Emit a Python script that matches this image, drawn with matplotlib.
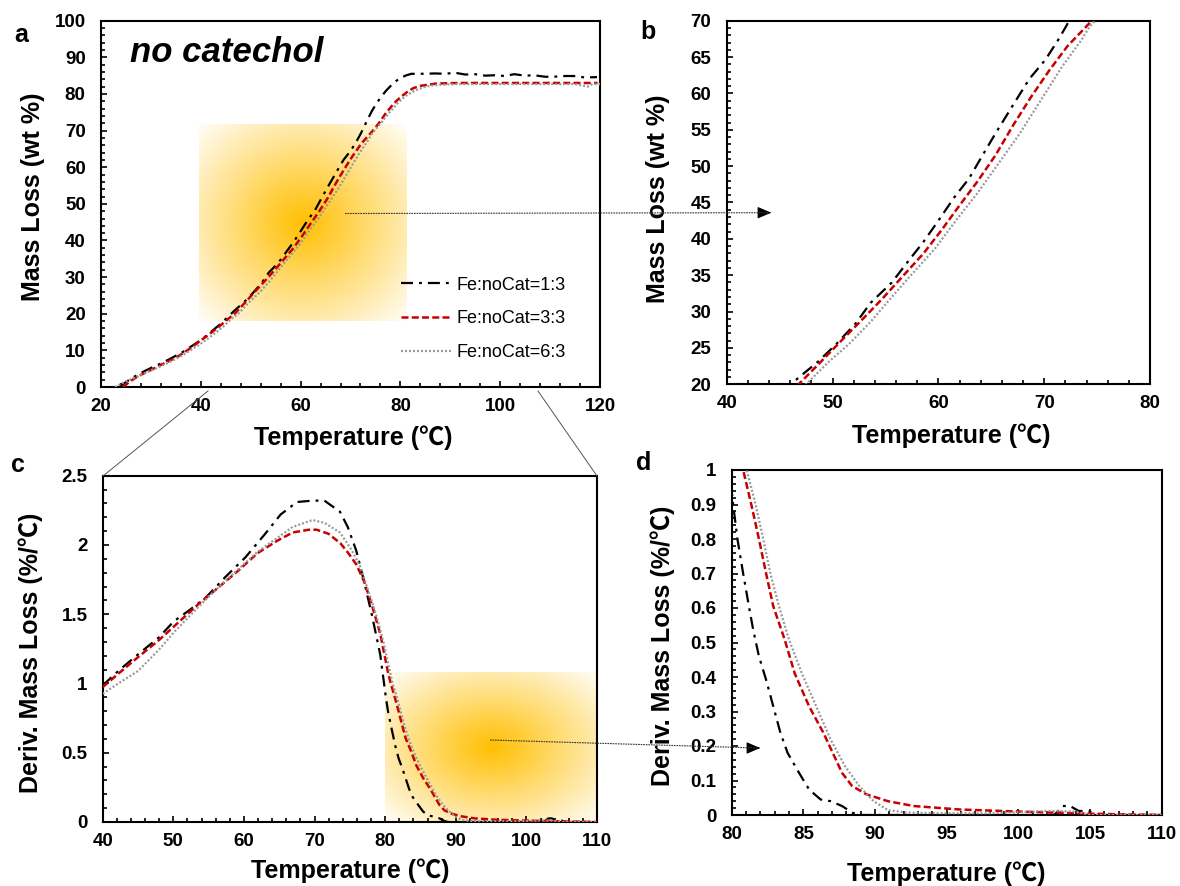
import numpy as np
import matplotlib
matplotlib.use('Agg')
import matplotlib.pyplot as plt
from matplotlib.ticker import MultipleLocator, FuncFormatter
from matplotlib.lines import Line2D
from matplotlib.patches import FancyArrowPatch

plt.rcParams['font.family'] = ['Liberation Sans', 'Noto Sans CJK JP', 'DejaVu Sans']
plt.rcParams['font.weight'] = 'bold'
plt.rcParams['axes.labelweight'] = 'bold'

labels = ['Fe:noCat=1:3', 'Fe:noCat=3:3', 'Fe:noCat=6:3']

# mass loss (wt %) vs temperature, panels a and b
t_13 = [23.6, 25.5, 27.5, 30, 32, 34, 36.2, 38, 40.2, 42, 44.2, 46.7, 48.7, 50.4, 52.2, 53.6,
        55.6, 57.3, 58.6, 60.0, 61.5, 62.9, 64.1, 65.4, 67.1, 68.6, 70.1, 71.3, 72.1, 73.2,
        74.3, 75.3, 76.3, 77.2, 78.2, 79.2, 80.2, 81.2, 82.2, 84, 87, 89, 90.9, 93, 94.9, 97,
        98.8, 101, 102.8, 105, 106.8, 109, 110.7, 113, 114.7, 117, 119.4]
m_13 = [0, 1.8, 3.5, 5.2, 6.4, 7.8, 9.4, 11, 13, 15, 17.5, 20.8, 23.2, 25.6, 28.4, 31.2,
        34.0, 37.2, 39.6, 42.5, 45.7, 48.3, 51.3, 54.5, 58.5, 62.0, 64.6, 67.3, 69.3, 72.4,
        75.4, 77.6, 79.5, 81.0, 82.4, 83.6, 84.5, 85.1, 85.5, 85.5, 85.6, 85.5, 85.8, 85.3,
        85.4, 85.0, 85.1, 84.9, 85.4, 85.0, 85.1, 84.7, 84.7, 84.9, 84.9, 84.5, 84.6]

t_33 = [24.4, 26, 27.5, 29.5, 31.5, 33.5, 35.5, 37.5, 39.4, 41.4, 43.4, 45.4, 46.8, 48.9,
        50.9, 52.6, 54.6, 56.6, 58.6, 60.3, 61.9, 63.7, 65.4, 67.1, 68.8, 70.5, 72.2, 74.7,
        75.9, 77, 78.2, 79.2, 80.2, 81.4, 82.6, 84, 85.4, 87, 88.5, 92, 96, 100, 105, 110,
        115, 119.5]
m_33 = [0, 1.7, 3.0, 4.3, 5.7, 7.0, 8.4, 10.2, 12.1, 14.1, 16.2, 18.5, 20.0, 23.1, 26.1,
        28.6, 31.6, 34.8, 38.0, 41.2, 44.4, 47.9, 51.5, 55.7, 59.6, 63.2, 66.5, 70.3, 72.4,
        74.6, 76.6, 78.1, 79.3, 80.6, 81.6, 82.2, 82.5, 82.8, 82.9, 83.0, 83.0, 83.0, 83.0,
        83.0, 83.0, 83.0]

t_63 = [22.8, 24.5, 26.7, 28.5, 30.5, 32.5, 34.5, 36.5, 38.5, 40.5, 42.5, 44.5, 46.3, 47.5,
        49.5, 51.6, 53.6, 55.6, 57.6, 59.7, 61.7, 63.7, 65.7, 67.7, 69.7, 71.7, 73.5, 74.3,
        76.3, 77.7, 79, 80.2, 81.4, 83, 84.6, 86.2, 87.8, 91, 95, 100, 105, 110, 115, 117.5,
        118.5, 120]
m_63 = [0, 1.2, 2.5, 3.6, 4.8, 6.0, 7.3, 8.8, 10.5, 12.3, 14.3, 16.5, 18.8, 20.0, 22.9,
        25.6, 28.6, 32.0, 35.3, 38.7, 42.6, 46.3, 50.4, 54.5, 59.1, 63.7, 67.3, 69.2, 72.4,
        74.8, 76.8, 78.5, 79.8, 81.0, 81.8, 82.3, 82.5, 82.7, 82.7, 82.7, 82.7, 82.7, 82.7,
        82.0, 82.7, 82.7]

# derivative mass loss (%/C), panels c and d
dt_13 = [40, 42.2, 45, 47.9, 50.1, 52.3, 54.6, 57.4, 60.2, 63, 65.2, 67.5, 69.7, 71.4, 73.6,
         74.7, 75.9, 77, 78.1, 79.3, 80.1, 80.4, 80.8, 81.2, 81.5, 81.9, 82.4, 82.9, 83.4,
         83.9, 84.7, 85.4, 86.2, 86.9, 87.7, 88.4, 88.9, 92, 96, 100, 102.5, 103.1, 103.6,
         104.2, 105, 105.6, 108, 110]
d_13 = [0.986, 1.09, 1.21, 1.33, 1.45, 1.53, 1.62, 1.77, 1.91, 2.08, 2.22, 2.31, 2.32, 2.32,
        2.24, 2.13, 1.96, 1.74, 1.50, 1.21, 0.90, 0.80, 0.70, 0.605, 0.537, 0.46, 0.392,
        0.315, 0.238, 0.18, 0.122, 0.074, 0.045, 0.04, 0.026, 0.007, 0.0, 0.0, 0.0, 0.0,
        0.0, 0.026, 0.026, 0.012, 0.01, 0.0, 0.0, 0.0]

dt_33 = [40, 42.2, 45, 47.9, 50.7, 53.5, 56.3, 59.1, 61.9, 64.7, 66.9, 69.2, 70.3, 72, 73.7,
         74.8, 75.9, 77, 78.1, 79.3, 80.4, 80.8, 81.4, 81.9, 82.4, 82.9, 83.7, 84.4, 85.4,
         86.4, 87.7, 88.4, 89.4, 90.9, 92.7, 95.9, 100, 104, 107, 110]
d_33 = [0.974, 1.07, 1.19, 1.31, 1.44, 1.57, 1.69, 1.81, 1.94, 2.03, 2.09, 2.11, 2.11, 2.08,
        2.01, 1.94, 1.86, 1.74, 1.57, 1.36, 1.08, 1.0, 0.894, 0.80, 0.70, 0.605, 0.508,
        0.41, 0.315, 0.238, 0.122, 0.084, 0.06, 0.04, 0.026, 0.016, 0.01, 0.005, 0.002, 0.0]

dt_63 = [40, 42.2, 45, 47.9, 50.1, 53.5, 56.3, 59.1, 61.9, 64.7, 66.9, 69.7, 71.4, 73.6,
         75.3, 76.5, 77.6, 78.7, 79.8, 81.05, 81.7, 82.2, 82.7, 83.3, 84.0, 84.9, 85.9,
         86.9, 87.9, 88.9, 89.9, 90.9, 92.2, 95, 98, 100, 102, 104, 105, 107, 110]
d_63 = [0.925, 1.0, 1.09, 1.24, 1.37, 1.55, 1.69, 1.82, 1.95, 2.05, 2.13, 2.18, 2.16, 2.09,
        1.96, 1.84, 1.67, 1.50, 1.29, 1.0, 0.894, 0.80, 0.70, 0.605, 0.508, 0.41, 0.315,
        0.219, 0.142, 0.084, 0.04, 0.014, 0.007, 0.005, 0.005, 0.008, 0.012, 0.01, 0.0,
        0.0, 0.0]

W, H = 1180, 886
fig = plt.figure(figsize=(W / 100, H / 100), dpi=100)


def px(x, y):
    # pixel position (top-left origin) -> figure fraction
    return x / W, 1 - y / H


def box(l, t, r, b):
    return [l / W, 1 - b / H, (r - l) / W, (b - t) / H]


styles = [
    dict(color='black', lw=1.6, dashes=(5.4, 2.7, 1.3, 2.7)),
    dict(color='#C80000', lw=1.8, dashes=(2.8, 1.3)),
    dict(color='#999999', lw=1.6, dashes=(0.9, 0.9)),
]


def glow(ax, x0, x1, y0, y1):
    n = 200
    gx, gy = np.meshgrid(np.linspace(-1, 1, n), np.linspace(-1, 1, n))
    r = np.sqrt(gx ** 2 + gy ** 2)
    img = np.zeros((n, n, 4))
    img[..., 0] = 1.0
    img[..., 1] = 0.75
    img[..., 2] = 0.0
    img[..., 3] = np.clip(1 - r / 1.45, 0, 1)
    ax.imshow(img, extent=(x0, x1, y0, y1), aspect='auto', origin='lower',
              interpolation='bilinear', zorder=1)


def setup(ax, xlim, ylim, xmaj, xmin, ymaj, ymin):
    ax.set_xlim(*xlim)
    ax.set_ylim(*ylim)
    ax.xaxis.set_major_locator(MultipleLocator(xmaj))
    ax.xaxis.set_minor_locator(MultipleLocator(xmin))
    ax.yaxis.set_major_locator(MultipleLocator(ymaj))
    ax.yaxis.set_minor_locator(MultipleLocator(ymin))
    fmt = FuncFormatter(lambda v, p: '%g' % round(v, 3))
    ax.xaxis.set_major_formatter(fmt)
    ax.yaxis.set_major_formatter(fmt)
    ax.tick_params(which='both', direction='in', top=False, right=False, width=1.2,
                   labelsize=13.5)
    ax.tick_params(which='major', length=4.5)
    ax.tick_params(which='minor', length=3)
    ax.tick_params(axis='x', pad=8)
    ax.tick_params(axis='y', pad=11)
    for s in ax.spines.values():
        s.set_linewidth(1.5)


temp_label = 'Temperature (℃)'

# panel a
ax_a = fig.add_axes(box(101, 20.7, 600, 387))
glow(ax_a, 39.6, 81.1, 18, 71.6)
mass = [(t_13, m_13), (t_33, m_33), (t_63, m_63)]
handles = []
for (t, m), st, lab in zip(mass, styles, labels):
    ln, = ax_a.plot(t, m, zorder=3, label=lab, **st)
    handles.append(ln)
setup(ax_a, (20, 120), (0, 100), 20, 4, 10, 2)
ax_a.set_xlabel(temp_label, fontsize=18)
ax_a.set_ylabel('Mass Loss (wt %)', fontsize=18)
ax_a.xaxis.set_label_coords(0.505, -0.104)
ax_a.yaxis.set_label_coords(-0.112, 0.52)
ax_a.text(0.058, 0.887, 'no catechol', transform=ax_a.transAxes, fontsize=25,
          style='italic', weight='bold', va='baseline')
ax_a.legend(handles=handles, loc='center left', bbox_to_anchor=px(401, 319),
            bbox_transform=fig.transFigure, frameon=False, handlelength=2.8,
            handletextpad=0.3, labelspacing=0.93, borderpad=0, borderaxespad=0,
            prop={'weight': 'normal', 'size': 13})

# panel b
ax_b = fig.add_axes(box(726.7, 20.7, 1150, 384.3))
for (t, m), st in zip(mass, styles):
    ax_b.plot(t, m, zorder=3, **st)
setup(ax_b, (40, 80), (20, 70), 10, 2, 5, 1)
ax_b.set_xlabel(temp_label, fontsize=18)
ax_b.set_ylabel('Mass Loss (wt %)', fontsize=18)
ax_b.xaxis.set_label_coords(0.53, -0.1075)
ax_b.yaxis.set_label_coords(-0.134, 0.51)

# panel c
deriv = [(dt_13, d_13), (dt_33, d_33), (dt_63, d_63)]
ax_c = fig.add_axes(box(102.7, 475.7, 597, 822))
glow(ax_c, 80.0, 110.3, 0, 1.08)
for (t, d), st in zip(deriv, styles):
    ax_c.plot(t, d, zorder=3, **st)
setup(ax_c, (40, 110), (0, 2.5), 10, 2, 0.5, 0.1)
ax_c.set_xlabel(temp_label, fontsize=18)
ax_c.set_ylabel('Deriv. Mass Loss (%/℃)', fontsize=18)
ax_c.xaxis.set_label_coords(0.5, -0.105)
ax_c.yaxis.set_label_coords(-0.121, 0.49)

# panel d
ax_d = fig.add_axes(box(731.7, 470, 1161.7, 815))
for (t, d), st in zip(deriv, styles):
    ax_d.plot(t, d, zorder=3, **st)
setup(ax_d, (80, 110), (0, 1), 5, 1, 0.1, 0.02)
ax_d.set_xlabel(temp_label, fontsize=18)
ax_d.set_ylabel('Deriv. Mass Loss (%/℃)', fontsize=18)
ax_d.xaxis.set_label_coords(0.5, -0.134)
ax_d.yaxis.set_label_coords(-0.132, 0.49)

# panel letters
for lab, (x, y) in zip('abcd', [(14, 42), (640, 39), (11, 472), (636, 470)]):
    fig.text(*px(x, y), lab, fontsize=18, weight='bold', va='baseline')

# zoom guide lines from a to c
for (x0, y0), (x1, y1) in [((208, 391), (103, 476)), ((538, 391), (597, 476))]:
    fig.add_artist(Line2D([x0 / W, x1 / W], [1 - y0 / H, 1 - y1 / H],
                          transform=fig.transFigure, color='#555555', lw=0.7))

# arrows to the zoomed panels
for (x0, y0), (x1, y1) in [((345, 213.5), (774, 212.7)), ((490, 740), (763, 748))]:
    fig.add_artist(Line2D([x0 / W, (x1 - 6) / W], [1 - y0 / H, 1 - y1 / H],
                          transform=fig.transFigure, color='#333333', lw=0.8,
                          linestyle=(0, (1.5, 0.8))))
    fig.add_artist(FancyArrowPatch(
        px(x1 - 8, y1), px(x1, y1), transform=fig.transFigure,
        arrowstyle='-|>,head_length=0.7,head_width=0.3', mutation_scale=12,
        color='black', lw=0.8))

fig.savefig('out.png', dpi=100)
